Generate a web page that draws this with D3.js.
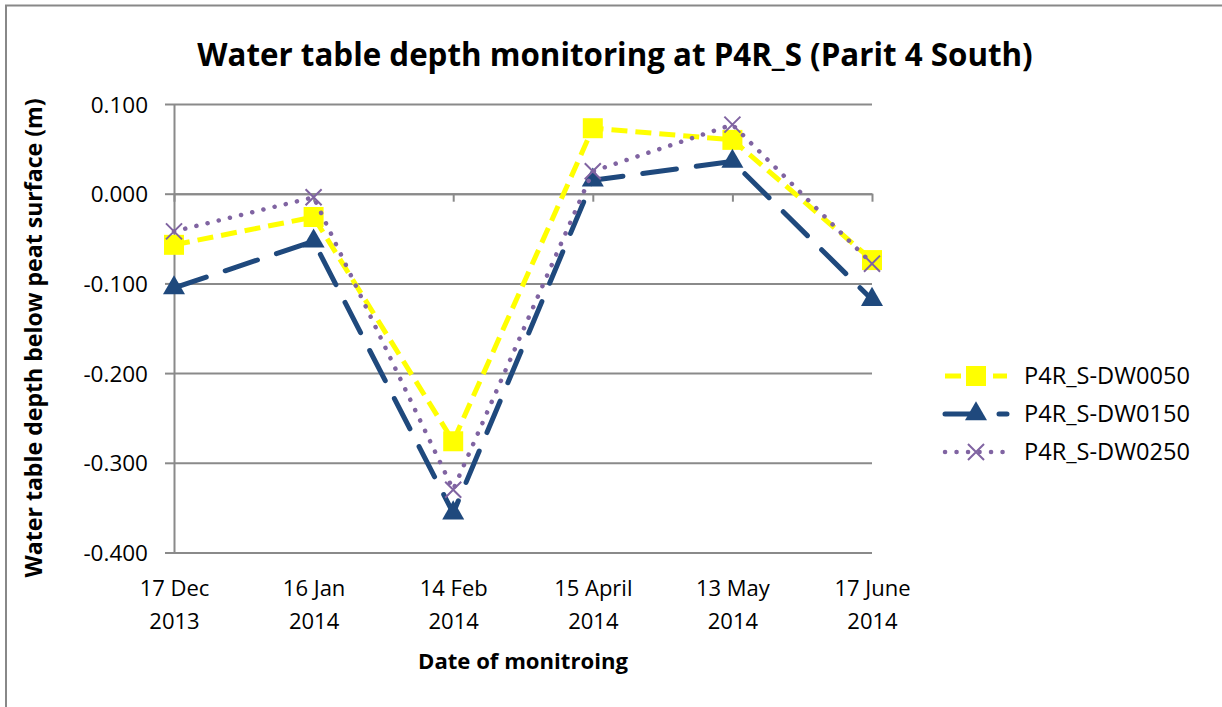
<!DOCTYPE html>
<html><head><meta charset="utf-8">
<script src="https://cdn.jsdelivr.net/npm/d3@7"></script>
<style>body{margin:0;background:#fff;} svg{display:block;}</style>
</head><body>
<svg id="c" width="1222" height="707"></svg>
<script>
// ---------- data ----------
const categories = ["17 Dec 2013", "16 Jan 2014", "14 Feb 2014", "15 April 2014", "13 May 2014", "17 June 2014"];
const seriesNames = ["P4R_S-DW0050", "P4R_S-DW0150", "P4R_S-DW0250"];
const dw0050 = [-0.057, -0.026, -0.276, 0.073, 0.060, -0.074];
const dw0150 = [-0.105, -0.053, -0.356, 0.015, 0.036, -0.118];
const dw0250 = [-0.042, -0.004, -0.330, 0.025, 0.077, -0.078];
const yTicks = [0.1, 0.0, -0.1, -0.2, -0.3, -0.4];
const titleText = "Water table depth monitoring at P4R_S (Parit 4 South)";
const xTitle = "Date of monitroing";
const yTitle = "Water table depth below peat surface (m)";

// ---------- layout / style ----------
const FONT = "'Open Sans', 'Noto Sans', sans-serif";
const GRID = "#8a8a8a";
const plot = {left: 174, right: 872, top: 104, bottom: 552.5};
const styles = [
  {color: "#FFFF00", width: 5, dash: "16,8", cap: "butt", symbol: d3.symbolSquare, size: 400, stroke: false},
  {color: "#1F497D", width: 5, dash: "34,20", cap: "round", symbol: d3.symbolTriangle, size: 210, stroke: false},
  {color: "#8064A2", width: 4.5, dash: "0.1,11.4", cap: "round", symbol: d3.symbolX, size: 170, stroke: true}
];
const series = [dw0050, dw0150, dw0250];

const svg = d3.select("#c");
svg.append("rect").attr("width", 1222).attr("height", 707).attr("fill", "#fff");
// outer chart border (extends beyond right/bottom edges)
svg.append("rect").attr("x", 6).attr("y", 5.5).attr("width", 1240).attr("height", 720)
  .attr("fill", "none").attr("stroke", "#888").attr("stroke-width", 2);

const x = d3.scalePoint().domain(categories).range([plot.left, plot.right]);
const y = d3.scaleLinear().domain([-0.4, 0.1]).range([plot.bottom, plot.top]);
const loc = d3.formatLocale({decimal: ".", thousands: ",", grouping: [3], currency: ["", ""], minus: "-"});
const fmt = loc.format(".3f");

// gridlines
const grid = svg.append("g").attr("transform", `translate(${plot.left},0)`)
  .call(d3.axisLeft(y).tickValues(yTicks).tickSize(-(plot.right - plot.left)).tickFormat(""));
grid.select(".domain").remove();
grid.selectAll("line").attr("stroke", GRID).attr("stroke-width", 2);

// y axis
const yAx = svg.append("g").attr("transform", `translate(${plot.left},0)`)
  .call(d3.axisLeft(y).tickValues(yTicks).tickSize(9).tickPadding(17).tickFormat(fmt).tickSizeOuter(0));
yAx.select(".domain").attr("stroke", GRID).attr("stroke-width", 2);
yAx.selectAll("line").attr("stroke", GRID).attr("stroke-width", 2);
yAx.selectAll("text").attr("font-family", FONT).attr("font-size", 22.5).attr("fill", "#000").attr("dy", "0.36em");

// x axis line at zero with ticks
const xAx0 = svg.append("g").attr("transform", `translate(0,${y(0)})`)
  .call(d3.axisBottom(x).tickSize(8).tickFormat("").tickSizeOuter(0));
xAx0.select(".domain").attr("stroke", GRID).attr("stroke-width", 2);
xAx0.selectAll("line").attr("stroke", GRID).attr("stroke-width", 2);

// x labels at bottom (low position)
const xAxL = svg.append("g").attr("transform", `translate(0,${plot.bottom})`)
  .call(d3.axisBottom(x).tickSize(0).tickPadding(0));
xAxL.select(".domain").remove();
xAxL.selectAll("text").each(function(d) {
  const t = d3.select(this).text(null).attr("y", 0).attr("dy", null)
    .attr("font-family", FONT).attr("font-size", 22).attr("fill", "#000");
  const i = d.lastIndexOf(" ");
  t.append("tspan").attr("x", 0).attr("y", 43).text(d.slice(0, i));
  t.append("tspan").attr("x", 0).attr("y", 76).text(d.slice(i + 1));
});

// series
const line = d3.line().x((d, i) => x(categories[i])).y(d => y(d));
series.forEach((vals, k) => {
  const s = styles[k];
  const g = svg.append("g");
  g.append("path").datum(vals).attr("d", line).attr("fill", "none")
    .attr("stroke", s.color).attr("stroke-width", s.width).attr("stroke-dasharray", s.dash)
    .attr("stroke-linecap", s.cap).attr("stroke-linejoin", "round");
  g.selectAll("path.m").data(vals).join("path").attr("class", "m")
    .attr("transform", (d, i) => `translate(${x(categories[i])},${y(d)})`)
    .attr("d", d3.symbol(s.symbol, s.size))
    .attr("fill", s.stroke ? "none" : s.color)
    .attr("stroke", s.color).attr("stroke-width", s.stroke ? 2 : 0);
});

// legend
const leg = svg.append("g");
seriesNames.forEach((name, k) => {
  const s = styles[k];
  const cy = 376 + k * 38;
  leg.append("line").attr("x1", 945).attr("x2", 1007).attr("y1", cy).attr("y2", cy)
    .attr("stroke", s.color).attr("stroke-width", s.width).attr("stroke-dasharray", s.dash)
    .attr("stroke-linecap", s.cap);
  leg.append("path").attr("transform", `translate(976,${cy})`).attr("d", d3.symbol(s.symbol, s.size))
    .attr("fill", s.stroke ? "none" : s.color).attr("stroke", s.color).attr("stroke-width", s.stroke ? 2 : 0);
  const lt = leg.append("text").attr("x", 1024).attr("y", cy).attr("dy", "0.36em")
    .attr("font-family", FONT).attr("font-size", 22).attr("fill", "#000").text(name);
  fit(lt, 166);
});

// titles, fitted to widths of the reference
function fit(t, w) {
  const base = +t.attr("font-size");
  const len = t.node().getComputedTextLength();
  t.attr("font-size", base * w / len);
}
const tt = svg.append("text").attr("x", 615).attr("y", 66).attr("text-anchor", "middle")
  .attr("font-family", FONT).attr("font-weight", "bold").attr("font-size", 30).attr("fill", "#000").text(titleText);
fit(tt, 836);
const xt = svg.append("text").attr("x", 523).attr("y", 669).attr("text-anchor", "middle")
  .attr("font-family", FONT).attr("font-weight", "bold").attr("font-size", 20).attr("fill", "#000").text(xTitle);
fit(xt, 210);
const yt = svg.append("text").attr("transform", "translate(42,338) rotate(-90)").attr("text-anchor", "middle")
  .attr("font-family", FONT).attr("font-weight", "bold").attr("font-size", 20).attr("fill", "#000").text(yTitle);
fit(yt, 479);
</script>
</body></html>
